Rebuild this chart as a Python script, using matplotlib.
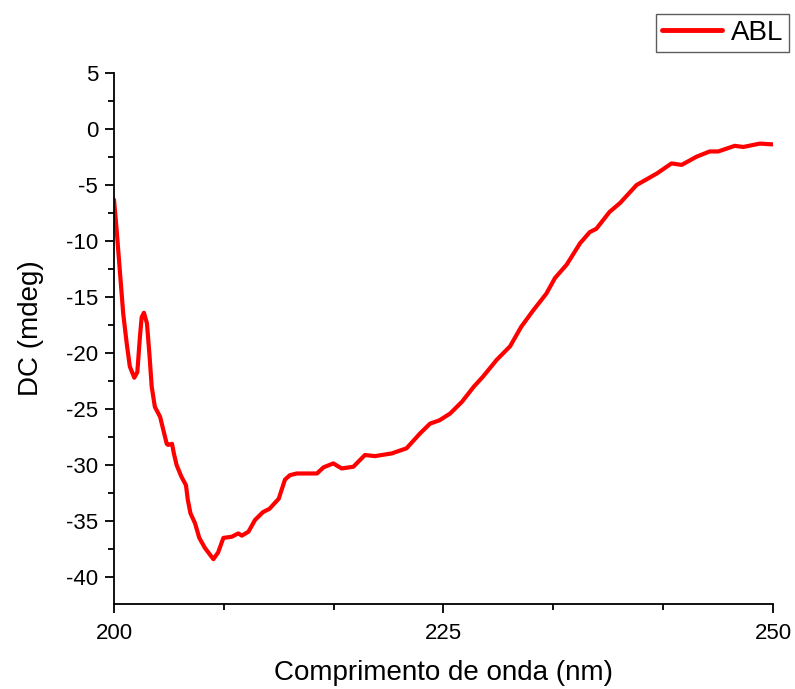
import numpy as np
import matplotlib
matplotlib.use("Agg")
import matplotlib.pyplot as plt
from matplotlib.ticker import MultipleLocator, AutoMinorLocator

plt.rcParams['font.family'] = ['Liberation Sans', 'DejaVu Sans']
plt.rcParams['axes.unicode_minus'] = False

# wavelength (nm) and CD signal (mdeg)
wl = [200.0, 200.2, 200.46, 200.7, 200.96, 201.2, 201.54, 201.77, 201.97, 202.1,
      202.27, 202.5, 202.7, 202.86, 203.1, 203.5, 203.75, 204.0, 204.1, 204.4,
      204.55, 204.75, 205.1, 205.46, 205.6, 205.8, 206.15, 206.47, 206.9, 207.54,
      207.9, 208.3, 208.93, 209.43, 209.7, 210.2, 210.7, 211.3, 211.8, 212.5,
      212.97, 213.35, 213.86, 215.4, 215.9, 216.64, 217.27, 218.16, 219.04, 219.8,
      221.07, 222.2, 223.2, 223.98, 224.7, 225.5, 226.4, 227.3, 228.0, 229.04,
      230.05, 230.9, 231.8, 232.8, 233.46, 234.35, 235.36, 236.1, 236.6, 237.6,
      238.4, 239.65, 241.2, 242.3, 243.07, 244.2, 245.2, 245.85, 247.1, 247.75,
      249.0, 250.0]
cd = [-6.3, -9.0, -12.9, -16.5, -19.1, -21.2, -22.2, -21.7, -18.5, -16.8,
      -16.4, -17.35, -20.3, -23.0, -24.8, -25.7, -26.9, -28.1, -28.2, -28.1,
      -29.0, -30.0, -31.0, -31.8, -33.1, -34.3, -35.2, -36.5, -37.4, -38.4,
      -37.8, -36.5, -36.4, -36.1, -36.3, -35.95, -34.9, -34.2, -33.9, -33.0,
      -31.3, -30.9, -30.75, -30.75, -30.2, -29.85, -30.3, -30.15, -29.1, -29.2,
      -28.96, -28.5, -27.2, -26.3, -26.0, -25.4, -24.35, -23.0, -22.1, -20.6,
      -19.4, -17.65, -16.2, -14.7, -13.3, -12.1, -10.2, -9.2, -8.9, -7.4,
      -6.6, -5.0, -3.96, -3.07, -3.2, -2.47, -2.0, -2.0, -1.5, -1.6,
      -1.3, -1.37]

fig = plt.figure(figsize=(7.95, 6.89), dpi=100)
ax = fig.add_axes([0.1434, 0.1234, 0.8289, 0.7706])

ax.plot(wl, cd, color='#ff0000', lw=3, label='ABL',
        solid_joinstyle='round', solid_capstyle='round')

ax.set_xlim(200, 250)
ax.set_ylim(-42.4, 5)
ax.xaxis.set_major_locator(MultipleLocator(25))
ax.xaxis.set_minor_locator(AutoMinorLocator(3))
ax.yaxis.set_major_locator(MultipleLocator(5))
ax.yaxis.set_minor_locator(AutoMinorLocator(2))

for s in ['top', 'right']:
    ax.spines[s].set_visible(False)
for s in ['left', 'bottom']:
    ax.spines[s].set_linewidth(1.3)
ax.tick_params(which='major', length=6.5, width=1.3, labelsize=16, direction='out')
ax.tick_params(which='minor', length=4, width=1.3, direction='out')
ax.tick_params(axis='x', pad=7)
ax.tick_params(axis='y', pad=5)

ax.set_xlabel('Comprimento de onda (nm)', fontsize=20)
ax.set_ylabel('DC (mdeg)', fontsize=20)
ax.xaxis.set_label_coords(0.5, -0.105)
ax.yaxis.set_label_coords(-0.106, 0.52)

leg = fig.legend(loc='upper right', bbox_to_anchor=(0.9925, 0.9797), fontsize=20,
                 frameon=True, fancybox=False, edgecolor='#333333', handlelength=2.15,
                 borderpad=0.22, handletextpad=0.3, borderaxespad=0)
leg.get_frame().set_linewidth(1.0)
leg.get_lines()[0].set_linewidth(3.5)

fig.savefig('out.png', dpi=100)
